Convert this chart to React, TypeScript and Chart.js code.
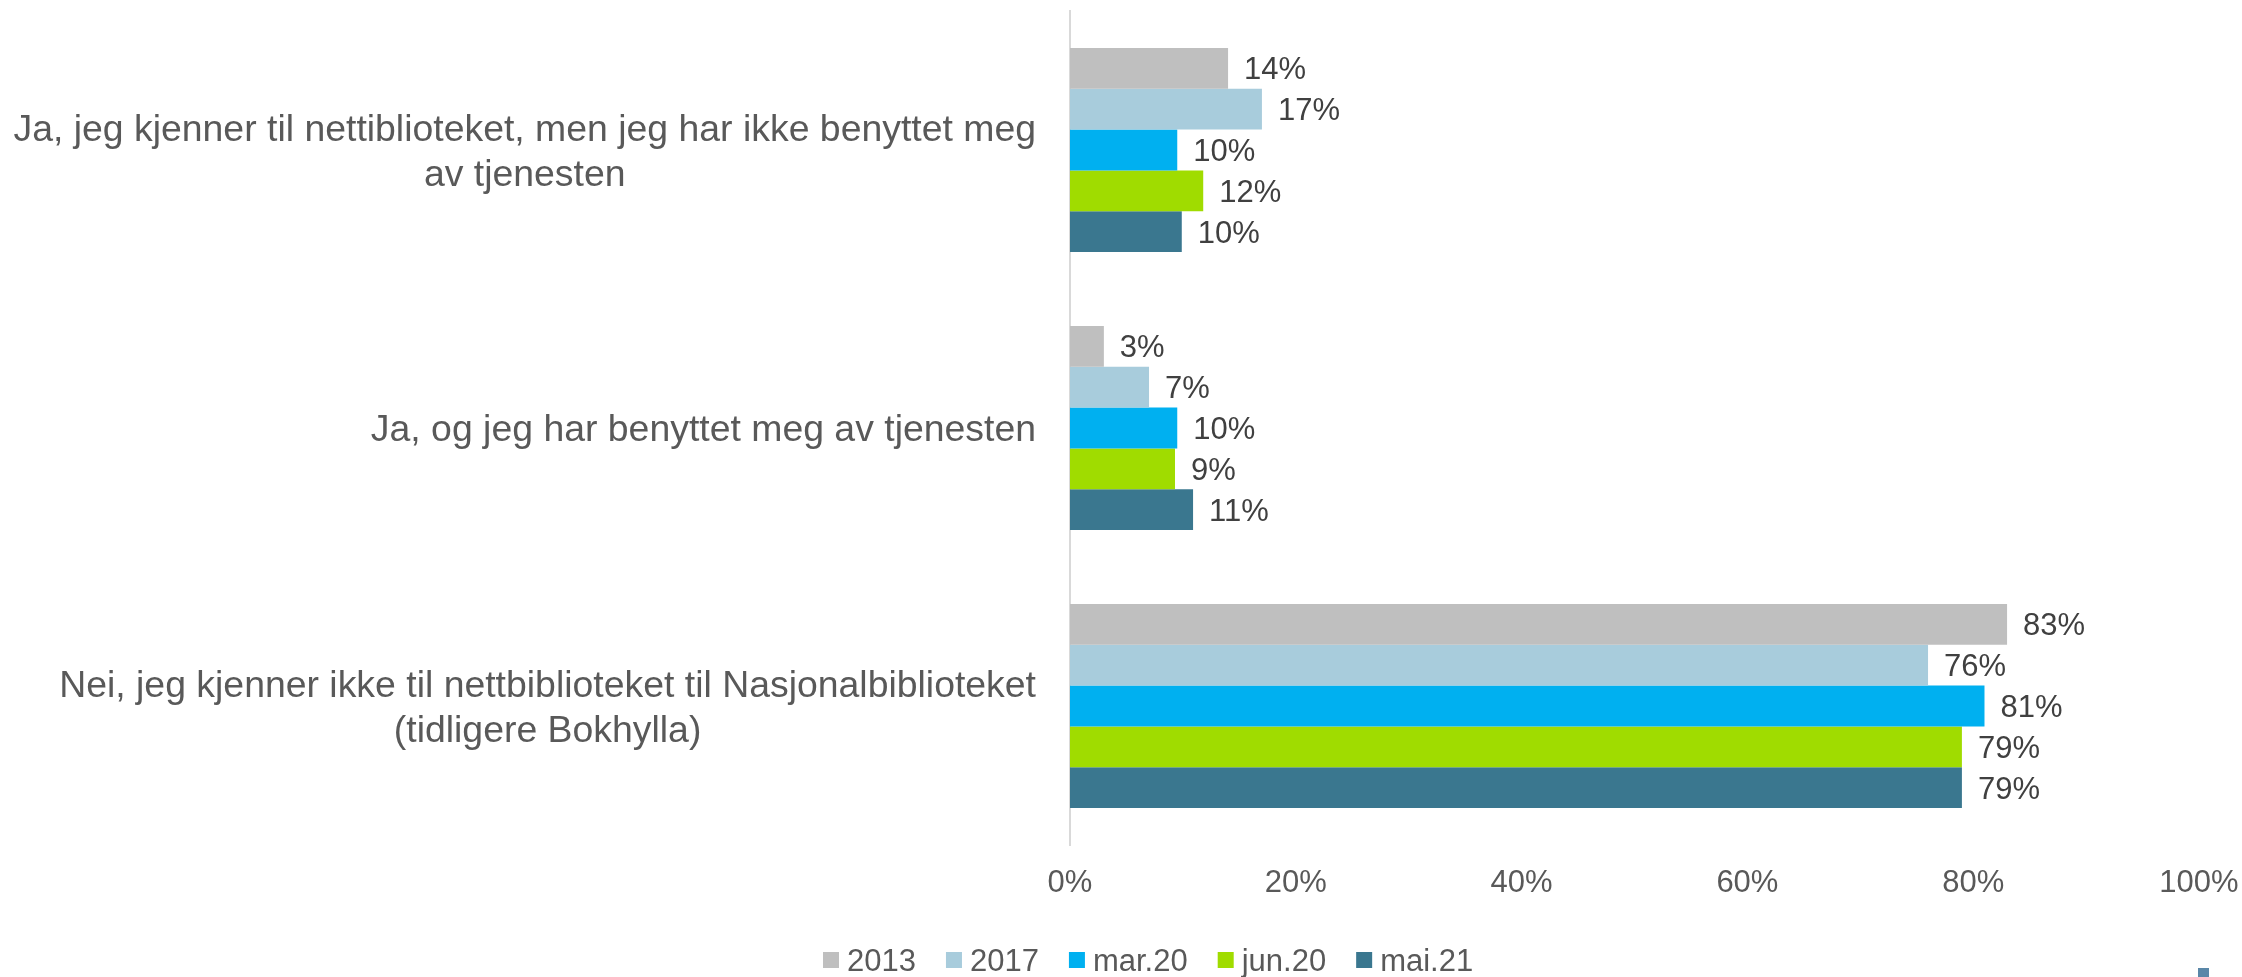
import React, { useEffect, useRef } from "react";
import { Chart, registerables } from "chart.js";

Chart.register(...registerables);

// ---- data ----
const categories: string[][] = [
  ["Ja, jeg kjenner til nettiblioteket, men jeg har ikke benyttet meg", "av tjenesten"],
  ["Ja, og jeg har benyttet meg av tjenesten"],
  ["Nei, jeg kjenner ikke til nettbiblioteket til Nasjonalbiblioteket", "(tidligere Bokhylla)"],
];
const seriesNames = ["2013", "2017", "mar.20", "jun.20", "mai.21"];
const values2013 = [14, 3, 83];
const values2017 = [17, 7, 76];
const valuesMar20 = [9.5, 9.5, 81];
const valuesJun20 = [11.8, 9.3, 79];
const valuesMai21 = [9.9, 10.9, 79];
const xTicks = [0, 20, 40, 60, 80, 100];
const seriesColors = ["#BFBFBF", "#A8CCDC", "#00B0F0", "#A0DC00", "#3A778F"];

const FONT = '"Liberation Sans", Arial, sans-serif';
const TEXT = "#595959";
const LABEL_TEXT = "#404040";
const CAT_FONT = 37.4;
const VAL_FONT = 31;

const customText = {
  id: "customText",
  afterDraw(chart: any) {
    const ctx = chart.ctx as CanvasRenderingContext2D;
    const { left } = chart.chartArea;
    const yScale = chart.scales.y;
    ctx.save();

    // category labels: block right-aligned, lines centred within block
    ctx.font = `${CAT_FONT}px ${FONT}`;
    ctx.fillStyle = TEXT;
    ctx.textAlign = "center";
    ctx.textBaseline = "alphabetic";
    const lh = 45;
    categories.forEach((lines, i) => {
      const yc = yScale.getPixelForValue(i);
      const maxW = Math.max(...lines.map((l) => ctx.measureText(l).width));
      const cx = left - 34 - maxW / 2;
      lines.forEach((l, j) => {
        const ym = yc + (j - (lines.length - 1) / 2) * lh;
        ctx.fillText(l, cx, ym + 0.36 * CAT_FONT);
      });
    });

    // value labels
    ctx.font = `${VAL_FONT}px ${FONT}`;
    ctx.fillStyle = LABEL_TEXT;
    ctx.textAlign = "left";
    chart.data.datasets.forEach((ds: any, di: number) => {
      const meta = chart.getDatasetMeta(di);
      meta.data.forEach((bar: any, i: number) => {
        const v = ds.data[i];
        ctx.fillText(`${Math.round(v)}%`, bar.x + 16, bar.y + 0.358 * VAL_FONT);
      });
    });

    // legend
    ctx.font = `${VAL_FONT}px ${FONT}`;
    let x = 823;
    const ly = 960;
    seriesNames.forEach((name, i) => {
      ctx.fillStyle = seriesColors[i];
      ctx.fillRect(x, ly - 8, 16, 16);
      x += 24;
      ctx.fillStyle = TEXT;
      ctx.fillText(name, x, ly + 0.358 * VAL_FONT);
      x += ctx.measureText(name).width + 30;
    });

    // small decorative mark bottom right
    ctx.fillStyle = "#5A87A8";
    ctx.fillRect(2198, 968, 11, 9);

    ctx.restore();
  },
};

export default function App() {
  const ref = useRef<HTMLCanvasElement | null>(null);

  useEffect(() => {
    if (!ref.current) return;
    const allValues = [values2013, values2017, valuesMar20, valuesJun20, valuesMai21];
    const chart = new Chart(ref.current, {
      type: "bar",
      data: {
        labels: categories.map((c) => c.join(" ")),
        datasets: seriesNames.map((name, i) => ({
          label: name,
          data: allValues[i],
          backgroundColor: seriesColors[i],
          borderWidth: 0,
          barPercentage: 1,
          categoryPercentage: 0.734,
        })),
      },
      options: {
        indexAxis: "y",
        animation: false,
        responsive: false,
        maintainAspectRatio: false,
        devicePixelRatio: 1,
        layout: { padding: { left: 1070, right: 43, top: 11, bottom: 72 } },
        plugins: {
          legend: { display: false },
          tooltip: { enabled: false },
        },
        scales: {
          x: {
            min: 0,
            max: 100,
            afterBuildTicks: (scale: any) => {
              scale.ticks = xTicks.map((v) => ({ value: v }));
            },
            afterFit: (scale: any) => {
              scale.height = 60;
            },
            ticks: {
              callback: (v: any) => `${v}%`,
              font: { family: FONT, size: VAL_FONT },
              color: TEXT,
              padding: 2,
              maxRotation: 0,
            },
            grid: { display: false, drawTicks: true, tickLength: 18 },
            border: { display: false },
          },
          y: {
            ticks: { display: false },
            grid: { display: false, drawTicks: false },
            border: { display: true, color: "#D9D9D9", width: 2 },
          },
        },
      },
      plugins: [customText],
    });
    return () => chart.destroy();
  }, []);

  return (
    <div style={{ position: "fixed", left: 0, top: 0, width: 2242, height: 977, background: "#fff" }}>
      <canvas ref={ref} width={2242} height={977} style={{ display: "block", width: 2242, height: 977 }} />
    </div>
  );
}
